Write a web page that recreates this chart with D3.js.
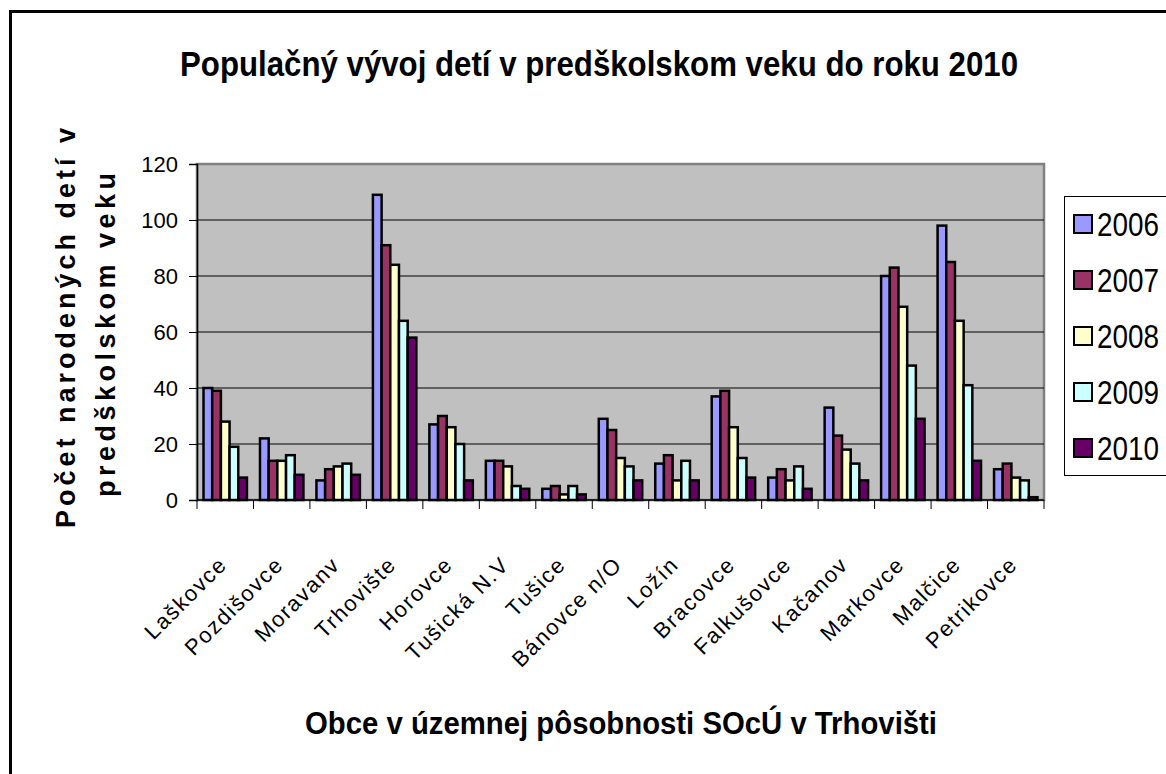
<!DOCTYPE html>
<html>
<head>
<meta charset="utf-8">
<script src="https://cdn.jsdelivr.net/npm/d3@7"></script>
<style>
  body { margin: 0; background: #fff; }
  svg { display: block; font-family: "Liberation Sans", Arial, sans-serif; }
</style>
</head>
<body>
<div id="chart"></div>
<script>
// data
var towns = ["Laškovce", "Pozdišovce", "Moravanv", "Trhovište", "Horovce", "Tušická N.V",
             "Tušice", "Bánovce n/O", "Ložín", "Bracovce", "Falkušovce", "Kačanov",
             "Markovce", "Malčice", "Petrikovce"];
var years = ["2006", "2007", "2008", "2009", "2010"];
var y2006 = [40, 22, 7, 109, 27, 14, 4, 29, 13, 37, 8, 33, 80, 98, 11];
var y2007 = [39, 14, 11, 91, 30, 14, 5, 25, 16, 39, 11, 23, 83, 85, 13];
var y2008 = [28, 14, 12, 84, 26, 12, 2, 15, 7, 26, 7, 18, 69, 64, 8];
var y2009 = [19, 16, 13, 64, 20, 5, 5, 12, 14, 15, 12, 13, 48, 41, 7];
var y2010 = [8, 9, 9, 58, 7, 4, 2, 7, 7, 8, 4, 7, 29, 14, 1];
var yTicks = [0, 20, 40, 60, 80, 100, 120];
var colors = ["#9999ff", "#993366", "#ffffcc", "#ccffff", "#660066"];

var series = [y2006, y2007, y2008, y2009, y2010];
var rows = towns.map(function(t, i) {
  return { town: t, values: years.map(function(y, j) { return { year: y, value: series[j][i] }; }) };
});

var width = 1166, height = 774;
var plot = { left: 197, top: 164, right: 1044, bottom: 500 };

var svg = d3.select("#chart").append("svg")
  .attr("width", width)
  .attr("height", height);

// outer frame
svg.append("rect")
  .attr("x", 10.5).attr("y", 11.5)
  .attr("width", 1200).attr("height", 800)
  .attr("fill", "#fff")
  .attr("stroke", "#000")
  .attr("stroke-width", 3);

// scales
var x = d3.scaleBand().domain(towns).range([plot.left, plot.right]).padding(0);
var slot = x.bandwidth();
var barW = slot / 6.5;
var xYear = d3.scaleBand().domain(years).range([barW * 0.75, slot - barW * 0.75]).padding(0);
var y = d3.scaleLinear().domain([0, 120]).range([plot.bottom, plot.top]);

// plot area
svg.append("rect")
  .attr("x", plot.left).attr("y", plot.top)
  .attr("width", plot.right - plot.left)
  .attr("height", plot.bottom - plot.top)
  .attr("fill", "#c0c0c0")
  .attr("stroke", "#808080")
  .attr("stroke-width", 2.5);

// gridlines
svg.append("g")
  .selectAll("line")
  .data(yTicks.filter(function(d) { return d > 0 && d < 120; }))
  .enter().append("line")
    .attr("x1", plot.left).attr("x2", plot.right)
    .attr("y1", function(d) { return y(d); })
    .attr("y2", function(d) { return y(d); })
    .attr("stroke", "#000")
    .attr("stroke-width", 1);

// bars
var groups = svg.append("g").selectAll("g")
  .data(rows)
  .enter().append("g")
    .attr("transform", function(d) { return "translate(" + x(d.town) + ",0)"; });

groups.selectAll("rect")
  .data(function(d) { return d.values; })
  .enter().append("rect")
    .attr("x", function(d) { return xYear(d.year); })
    .attr("y", function(d) { return y(d.value); })
    .attr("width", xYear.bandwidth())
    .attr("height", function(d) { return y(0) - y(d.value); })
    .attr("fill", function(d, i) { return colors[i]; })
    .attr("stroke", "#000")
    .attr("stroke-width", 2.5);

// Y axis
var yAxis = svg.append("g")
  .attr("transform", "translate(" + plot.left + ",0)")
  .call(d3.axisLeft(y).tickValues(yTicks).tickSize(8).tickPadding(11));
yAxis.select(".domain").attr("stroke", "#000").attr("stroke-width", 1.5);
yAxis.selectAll(".tick line").attr("stroke", "#000");
yAxis.selectAll(".tick text")
  .attr("font-size", 22)
  .attr("font-family", "'Liberation Sans Narrow', 'Liberation Sans', Arial, sans-serif")
  .attr("fill", "#000");

// X axis (ticks at category boundaries)
var bounds = d3.range(towns.length + 1).map(function(i) { return plot.left + i * slot; });
svg.append("line")
  .attr("x1", plot.left).attr("x2", plot.right)
  .attr("y1", plot.bottom).attr("y2", plot.bottom)
  .attr("stroke", "#000").attr("stroke-width", 1.5);
svg.append("g").selectAll("line")
  .data(bounds)
  .enter().append("line")
    .attr("x1", function(d) { return d; })
    .attr("x2", function(d) { return d; })
    .attr("y1", plot.bottom).attr("y2", plot.bottom + 9)
    .attr("stroke", "#000");

svg.append("g").selectAll("text")
  .data(towns)
  .enter().append("text")
    .attr("transform", function(d) {
      return "translate(" + (x(d) + slot / 2 + 3) + "," + 566 + ") rotate(-45)";
    })
    .attr("text-anchor", "end")
    .attr("font-size", 22)
    .attr("letter-spacing", 1.6)
    .text(function(d) { return d; });

// title
svg.append("text")
  .attr("x", 180).attr("y", 76)
  .attr("font-size", 35)
  .attr("font-weight", "bold")
  .attr("textLength", 838)
  .attr("lengthAdjust", "spacingAndGlyphs")
  .text("Populačný vývoj detí v predškolskom veku do roku 2010");

// x axis title
svg.append("text")
  .attr("x", 305).attr("y", 734)
  .attr("font-size", 31)
  .attr("font-weight", "bold")
  .attr("textLength", 632)
  .attr("lengthAdjust", "spacingAndGlyphs")
  .text("Obce v územnej pôsobnosti SOcÚ v Trhovišti");

// y axis title, two lines
svg.append("text")
  .attr("transform", "translate(75,528) rotate(-90)")
  .attr("font-size", 27)
  .attr("font-weight", "bold")
  .attr("textLength", 400)
  .attr("lengthAdjust", "spacing")
  .text("Počet narodených detí v");
svg.append("text")
  .attr("transform", "translate(115,497) rotate(-90)")
  .attr("font-size", 27)
  .attr("font-weight", "bold")
  .attr("textLength", 324)
  .attr("lengthAdjust", "spacing")
  .text("predškolskom veku");

// legend
var legend = svg.append("g");
legend.append("rect")
  .attr("x", 1064.5).attr("y", 196.5)
  .attr("width", 140).attr("height", 279)
  .attr("fill", "#fff")
  .attr("stroke", "#000")
  .attr("stroke-width", 1);

var items = legend.selectAll("g.item")
  .data(years)
  .enter().append("g")
    .attr("class", "item")
    .attr("transform", function(d, i) { return "translate(0," + (224 + i * 56) + ")"; });
items.append("rect")
  .attr("x", 1074).attr("y", -9)
  .attr("width", 18).attr("height", 18)
  .attr("fill", function(d, i) { return colors[i]; })
  .attr("stroke", "#000")
  .attr("stroke-width", 2);
items.append("text")
  .attr("x", 1097).attr("y", 12)
  .attr("font-size", 33)
  .attr("textLength", 62)
  .attr("lengthAdjust", "spacingAndGlyphs")
  .text(function(d) { return d; });
</script>
</body>
</html>
